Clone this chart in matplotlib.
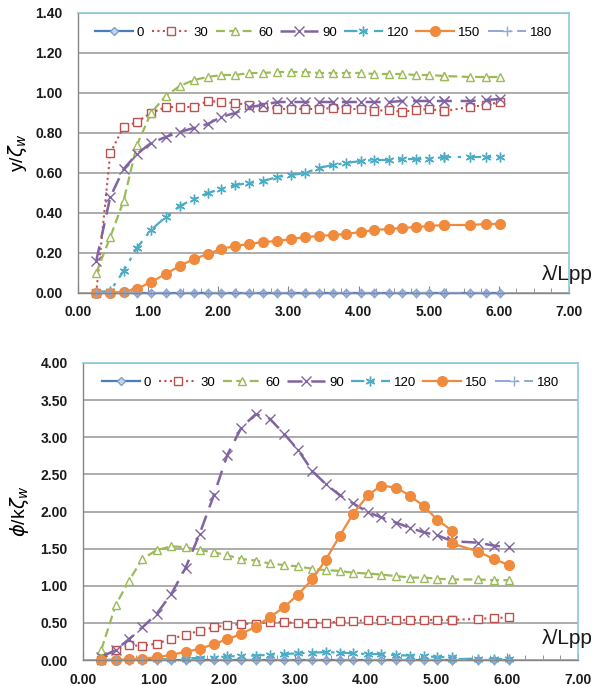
import matplotlib
matplotlib.use("Agg")
import matplotlib.pyplot as plt
from matplotlib.ticker import MultipleLocator, FormatStrFormatter

plt.rcParams['font.family'] = ['Liberation Sans', 'DejaVu Sans']
plt.rcParams['mathtext.fontset'] = 'dejavusans'

# ---------------- data ----------------
x = [0.26, 0.46, 0.65, 0.84, 1.04, 1.25, 1.45, 1.65, 1.85, 2.04, 2.24, 2.44, 2.64, 2.84, 3.04,
     3.24, 3.43, 3.63, 3.82, 4.03, 4.22, 4.43, 4.62, 4.82, 5.01, 5.22, 5.22, 5.59, 5.81, 6.02]

labels = ['0', '30', '60', '90', '120', '150', '180']

# top chart: y / zeta_w
top_0 = [0.0] * 30
top_30 = [0.0, 0.70, 0.83, 0.855, 0.90, 0.93, 0.93, 0.93, 0.96, 0.955, 0.95, 0.94, 0.93, 0.92, 0.92,
          0.92, 0.92, 0.925, 0.92, 0.92, 0.91, 0.915, 0.905, 0.915, 0.92, 0.91, 0.91, 0.93, 0.94, 0.955]
top_60 = [0.10, 0.28, 0.46, 0.74, 0.90, 0.985, 1.035, 1.065, 1.08, 1.09, 1.09, 1.10, 1.10, 1.105, 1.105,
          1.105, 1.10, 1.10, 1.10, 1.10, 1.095, 1.095, 1.095, 1.09, 1.09, 1.085, 1.085, 1.08, 1.08, 1.08]
top_90 = [0.16, 0.48, 0.62, 0.695, 0.75, 0.78, 0.805, 0.825, 0.845, 0.88, 0.90, 0.93, 0.94, 0.955, 0.955,
          0.955, 0.955, 0.955, 0.955, 0.955, 0.955, 0.955, 0.96, 0.96, 0.96, 0.96, 0.96, 0.96, 0.965, 0.97]
top_120 = [0.005, 0.01, 0.11, 0.225, 0.315, 0.38, 0.435, 0.47, 0.50, 0.52, 0.54, 0.55, 0.56, 0.58, 0.59,
           0.60, 0.625, 0.64, 0.65, 0.66, 0.665, 0.665, 0.67, 0.67, 0.67, 0.68, 0.68, 0.68, 0.68, 0.68]
top_150 = [0.0, 0.0, 0.007, 0.02, 0.055, 0.095, 0.135, 0.17, 0.195, 0.22, 0.235, 0.245, 0.255, 0.26, 0.27,
           0.28, 0.285, 0.29, 0.295, 0.305, 0.315, 0.32, 0.325, 0.33, 0.335, 0.34, 0.34, 0.34, 0.345, 0.345]
top_180 = [0.0] * 30

# bottom chart: phi / k zeta_w
bot_0 = [0.0] * 30
bot_30 = [0.0, 0.14, 0.20, 0.19, 0.22, 0.285, 0.34, 0.395, 0.44, 0.465, 0.485, 0.49, 0.51, 0.51, 0.50,
          0.50, 0.50, 0.52, 0.52, 0.54, 0.54, 0.54, 0.54, 0.54, 0.54, 0.54, 0.54, 0.555, 0.565, 0.575]
bot_60 = [0.14, 0.735, 1.07, 1.36, 1.48, 1.53, 1.52, 1.48, 1.45, 1.41, 1.36, 1.34, 1.30, 1.28, 1.26,
          1.23, 1.21, 1.20, 1.175, 1.165, 1.15, 1.13, 1.11, 1.11, 1.095, 1.085, 1.085, 1.085, 1.075, 1.075]
bot_90 = [0.04, 0.135, 0.28, 0.44, 0.62, 0.89, 1.24, 1.70, 2.22, 2.76, 3.13, 3.31, 3.25, 3.05, 2.83,
          2.55, 2.37, 2.22, 2.11, 1.99, 1.92, 1.85, 1.78, 1.72, 1.68, 1.60, 1.60, 1.58, 1.54, 1.52]
bot_120 = [0.0, 0.0, 0.0, 0.005, 0.01, 0.01, 0.02, 0.03, 0.03, 0.05, 0.05, 0.06, 0.07, 0.08, 0.09,
           0.10, 0.105, 0.10, 0.09, 0.08, 0.08, 0.065, 0.06, 0.05, 0.04, 0.04, 0.01, 0.02, 0.015, 0.01]
bot_150 = [0.0, 0.0, 0.01, 0.02, 0.035, 0.07, 0.11, 0.15, 0.215, 0.28, 0.35, 0.45, 0.575, 0.71, 0.88,
           1.085, 1.345, 1.67, 1.97, 2.22, 2.35, 2.32, 2.215, 2.07, 1.89, 1.74, 1.57, 1.46, 1.36, 1.28]
bot_180 = [0.0] * 30

top_series = [top_0, top_30, top_60, top_90, top_120, top_150, top_180]
bot_series = [bot_0, bot_30, bot_60, bot_90, bot_120, bot_150, bot_180]

# ---------------- styles ----------------
styles = [
    dict(color='#4a7ebb', ls='-', marker='D', ms=4.5, mfc='#c6d6ec', mec='#7f9fd0', lw=1.6),
    dict(color='#c0504d', ls=(0, (1, 1.6)), marker='s', ms=5.5, mfc='white', mec='#c0504d', lw=1.5, mew=1.0),
    dict(color='#9bbb59', ls=(0, (4, 2)), marker='^', ms=6, mfc='white', mec='#9bbb59', lw=1.6, mew=1.0),
    dict(color='#8064a2', ls=(0, (6, 3.5)), marker='x', ms=6.5, mec='#8064a2', lw=1.8, mew=1.0),
    dict(color='#4bacc6', ls=(0, (6, 3, 1.5, 3)), marker=(6, 2, 0), ms=7, mec='#4bacc6', lw=1.6, mew=1.0),
    dict(color='#f08a3c', ls='-', marker='o', ms=7, mfc='#f08a3c', mec='#f08a3c', lw=1.6),
    dict(color='#8fa8d6', ls=(0, (8, 3, 1, 3)), marker='+', ms=6.5, mec='#8fa8d6', lw=1.4, mew=1.0),
]

W, H = 608, 686
fig = plt.figure(figsize=(W / 100, H / 100), dpi=100)

ax1 = fig.add_axes([78 / W, 1 - 293 / H, (569 - 78) / W, (293 - 13) / H])
ax2 = fig.add_axes([83 / W, 1 - 660 / H, (578 - 83) / W, (660 - 363) / H])


def style_axes(ax, ymax, ystep, legend_y):
    ax.set_xlim(0, 7)
    ax.set_ylim(0, ymax)
    ax.xaxis.set_major_locator(MultipleLocator(1.0))
    ax.xaxis.set_minor_locator(MultipleLocator(0.25))
    ax.yaxis.set_major_locator(MultipleLocator(ystep))
    ax.xaxis.set_major_formatter(FormatStrFormatter('%.2f'))
    ax.yaxis.set_major_formatter(FormatStrFormatter('%.2f'))
    ax.grid(axis='y', color='#a6a6a6', lw=1.3)
    ax.set_axisbelow(True)
    for sp in ('left', 'bottom'):
        ax.spines[sp].set_color('#868686')
        ax.spines[sp].set_linewidth(1.0)
    for sp in ('top', 'right'):
        ax.spines[sp].set_color('#8cc9dc')
        ax.spines[sp].set_linewidth(1.2)
    ax.tick_params(axis='x', which='major', direction='in', length=5, color='#868686', pad=9)
    ax.tick_params(axis='x', which='minor', direction='in', length=3.5, color='#868686')
    ax.tick_params(axis='y', length=0, pad=11)
    for t in ax.get_xticklabels() + ax.get_yticklabels():
        t.set_fontweight('bold')
        t.set_fontsize(10)
        t.set_color('#1a1a1a')
    leg = ax.legend(loc='center', bbox_to_anchor=(0.5, legend_y), ncol=7, frameon=False,
                    fontsize=9.5, handlelength=2.9, handletextpad=0.3, columnspacing=0.55,
                    numpoints=1, borderaxespad=0)
    return leg


for ax, series in ((ax1, top_series), (ax2, bot_series)):
    for s, lab, st in zip(series, labels, styles):
        ax.plot(x, s, label=lab, clip_on=False, **st)

style_axes(ax1, 1.40, 0.20, 0.929)
style_axes(ax2, 4.00, 0.50, 0.933)

ax1.set_ylabel(r'y/$\zeta_w$', fontsize=14)
ax2.set_ylabel(r'$\phi$/k$\zeta_w$', fontsize=14)
ax1.yaxis.set_label_coords(-0.10, 0.5)
ax2.yaxis.set_label_coords(-0.105, 0.5)

fig.text(542 / W, 1 - 275 / H, 'λ/Lpp', fontsize=15, ha='left', va='center', color='#1a1a1a')
fig.text(542 / W, 1 - 638 / H, 'λ/Lpp', fontsize=15, ha='left', va='center', color='#1a1a1a')

fig.savefig('out.png', dpi=100)
